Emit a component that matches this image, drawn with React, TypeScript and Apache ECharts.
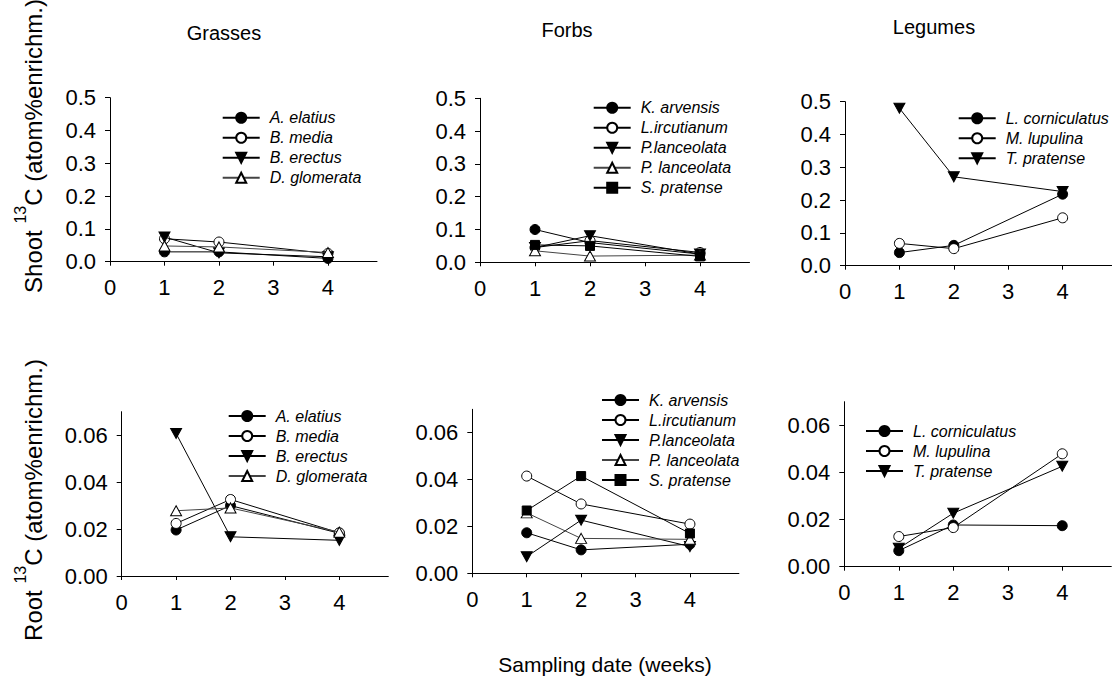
import React, { useEffect, useRef } from 'react';
import * as echarts from 'echarts';

// ---------- data ----------
const weeks = [1, 2, 4];
const xTickValues = [0, 1, 2, 3, 4];
const shootTickValues = [0, 0.1, 0.2, 0.3, 0.4, 0.5];
const rootTickValues = [0, 0.02, 0.04, 0.06];
const groupTitles = ['Grasses', 'Forbs', 'Legumes'];
const xAxisTitle = 'Sampling date (weeks)';
const shootAxisTitle = ['Shoot ', '13', 'C (atom%enrichm.)'];
const rootAxisTitle = ['Root ', '13', 'C (atom%enrichm.)'];

const grassNames = ['A. elatius', 'B. media', 'B. erectus', 'D. glomerata'];
const grassMarkers = ['filledCircle', 'openCircle', 'filledDown', 'openUp'];
const forbNames = ['K. arvensis', 'L.ircutianum', 'P.lanceolata', 'P. lanceolata', 'S. pratense'];
const forbMarkers = ['filledCircle', 'openCircle', 'filledDown', 'openUp', 'filledSquare'];
const legumeNames = ['L. corniculatus', 'M. lupulina', 'T. pratense'];
const legumeMarkers = ['filledCircle', 'openCircle', 'filledDown'];

// Shoot 13C
const aElatiusShoot = [0.030, 0.030, 0.010];
const bMediaShoot = [0.070, 0.060, 0.025];
const bErectusShoot = [0.075, 0.027, 0.015];
const dGlomerataShoot = [0.048, 0.045, 0.028];

const kArvensisShoot = [0.100, 0.060, 0.025];
const lIrcutianumShoot = [0.045, 0.066, 0.030];
const pLanceolataShoot = [0.045, 0.081, 0.025];
const pLanceolata2Shoot = [0.035, 0.019, 0.022];
const sPratenseShoot = [0.053, 0.050, 0.018];

const lCorniculatusShoot = [0.040, 0.062, 0.218];
const mLupulinaShoot = [0.068, 0.052, 0.146];
const tPratenseShoot = [0.480, 0.271, 0.226];

// Root 13C
const aElatiusRoot = [0.0196, 0.0300, 0.0182];
const bMediaRoot = [0.0224, 0.0326, 0.0184];
const bErectusRoot = [0.0607, 0.0167, 0.0152];
const dGlomerataRoot = [0.0278, 0.0290, 0.0187];

const kArvensisRoot = [0.0173, 0.0100, 0.0124];
const lIrcutianumRoot = [0.0415, 0.0296, 0.0210];
const pLanceolataRoot = [0.0071, 0.0227, 0.0114];
const pLanceolata2Root = [0.0258, 0.0149, 0.0145];
const sPratenseRoot = [0.0268, 0.0415, 0.0170];

const lCorniculatusRoot = [0.0068, 0.0177, 0.0174];
const mLupulinaRoot = [0.0128, 0.0166, 0.0479];
const tPratenseRoot = [0.0078, 0.0227, 0.0426];

// ---------- styling ----------
const FONT = '"Liberation Sans", Arial, sans-serif';
const DOWN_TRI = 'path://M0,0L20,0L10,17.3Z';

const markerStyles: Record<string, any> = {
  filledCircle: { symbol: 'circle', symbolSize: 10, fill: '#000', line: '#000' },
  openCircle: { symbol: 'circle', symbolSize: 10, fill: '#fff', line: '#000' },
  filledDown: { symbol: DOWN_TRI, symbolSize: [11, 10], fill: '#000', line: '#000' },
  openUp: { symbol: 'triangle', symbolSize: [11, 10], fill: '#fff', line: '#444' },
  filledSquare: { symbol: 'rect', symbolSize: 9, fill: '#000', line: '#000' },
};

const panels = [
  { grid: { left: 110, top: 97.7, width: 267, height: 164 }, isRoot: false, names: grassNames, markers: grassMarkers,
    values: [aElatiusShoot, bMediaShoot, bErectusShoot, dGlomerataShoot], legend: { left: 221.7, top: 109.7 } },
  { grid: { left: 480, top: 98.3, width: 269.5, height: 164 }, isRoot: false, names: forbNames, markers: forbMarkers,
    values: [kArvensisShoot, lIrcutianumShoot, pLanceolataShoot, pLanceolata2Shoot, sPratenseShoot], legend: { left: 592.7, top: 99.7 } },
  { grid: { left: 845, top: 101.7, width: 266.6, height: 164 }, isRoot: false, names: legumeNames, markers: legumeMarkers,
    values: [lCorniculatusShoot, mLupulinaShoot, tPratenseShoot], legend: { left: 957.7, top: 110.3 } },
  { grid: { left: 121.7, top: 411.7, width: 266.6, height: 164.3 }, isRoot: true, names: grassNames, markers: grassMarkers,
    values: [aElatiusRoot, bMediaRoot, bErectusRoot, dGlomerataRoot], legend: { left: 227.7, top: 408 } },
  { grid: { left: 472.3, top: 409.3, width: 266.6, height: 164 }, isRoot: true, names: forbNames, markers: forbMarkers,
    values: [kArvensisRoot, lIrcutianumRoot, pLanceolataRoot, pLanceolata2Root, sPratenseRoot], legend: { left: 601, top: 392 } },
  { grid: { left: 844.3, top: 401.7, width: 267, height: 165 }, isRoot: true, names: legumeNames, markers: legumeMarkers,
    values: [lCorniculatusRoot, mLupulinaRoot, tPratenseRoot], legend: { left: 865, top: 423 } },
];

function isNear(v: number, list: number[]) {
  return list.some((t) => Math.abs(t - v) < 1e-9);
}

function buildOption() {
  const grid: any[] = [];
  const xAxis: any[] = [];
  const yAxis: any[] = [];
  const series: any[] = [];
  const legend: any[] = [];

  panels.forEach((p, i) => {
    grid.push({ ...p.grid, containLabel: false });
    xAxis.push({
      type: 'value', gridIndex: i, min: 0, max: 4.9, interval: 1,
      axisLine: { show: true, onZero: false, lineStyle: { color: '#000', width: 1 } },
      axisTick: { show: true, length: 4, customValues: xTickValues, lineStyle: { color: '#000' } },
      axisLabel: {
        show: true, customValues: xTickValues, margin: 15, color: '#000', fontSize: 22, fontFamily: FONT,
        formatter: (v: number) => (isNear(v, xTickValues) ? String(v) : ''),
      },
      splitLine: { show: false },
    });
    const ticks = p.isRoot ? rootTickValues : shootTickValues;
    yAxis.push({
      type: 'value', gridIndex: i, min: 0, max: p.isRoot ? 0.07 : 0.5, interval: p.isRoot ? 0.02 : 0.1,
      axisLine: { show: true, onZero: false, lineStyle: { color: '#000', width: 1 } },
      axisTick: { show: true, length: 5, customValues: ticks, lineStyle: { color: '#000' } },
      axisLabel: {
        show: true, customValues: ticks, margin: 14, color: '#000', fontSize: 22, fontFamily: FONT,
        formatter: (v: number) => (isNear(v, ticks) ? v.toFixed(p.isRoot ? 2 : 1) : ''),
      },
      splitLine: { show: false },
    });
    p.names.forEach((name, k) => {
      const m = markerStyles[p.markers[k]];
      series.push({
        type: 'line', name, xAxisIndex: i, yAxisIndex: i,
        data: weeks.map((w, j) => [w, p.values[k][j]]),
        symbol: m.symbol, symbolSize: m.symbolSize, showSymbol: true,
        itemStyle: { color: m.fill, borderColor: '#000', borderWidth: 1, opacity: 1 },
        lineStyle: { color: m.line, width: 1 },
        emphasis: { disabled: true },
        z: 2 + k,
      });
    });
    legend.push({
      orient: 'vertical', left: p.legend.left, top: p.legend.top, padding: 0,
      data: p.names, itemWidth: 37, itemHeight: 12.5, itemGap: 4,
      selectedMode: false,
      textStyle: { fontSize: 16, fontStyle: 'italic', fontFamily: FONT, color: '#000', lineHeight: 16, padding: [0, 0, 0, 5] },
    });
  });

  const titleCenters = [[224, 33], [567, 30], [934, 27]];
  const graphic: any[] = groupTitles.map((t, i) => ({
    type: 'text', x: titleCenters[i][0], y: titleCenters[i][1],
    style: { text: t, fontSize: 20, fontFamily: FONT, fill: '#000', align: 'center', verticalAlign: 'middle' },
  }));

  const yTitle = (parts: string[], cy: number) => ({
    type: 'text', x: 29, y: cy, rotation: Math.PI / 2,
    style: {
      text: `{n|${parts[0]}}{s|${parts[1]}}{n|${parts[2]}}`,
      align: 'center', verticalAlign: 'middle', fill: '#000',
      rich: {
        n: { fontSize: 24, fontFamily: FONT, fill: '#000', lineHeight: 33, verticalAlign: 'bottom' },
        s: { fontSize: 16, fontFamily: FONT, fill: '#000', lineHeight: 17, verticalAlign: 'top' },
      },
    },
  });
  graphic.push(yTitle(shootAxisTitle, 146));
  graphic.push(yTitle(rootAxisTitle, 500));
  graphic.push({
    type: 'text', x: 605, y: 664,
    style: { text: xAxisTitle, fontSize: 21, fontFamily: FONT, fill: '#000', align: 'center', verticalAlign: 'middle' },
  });

  return {
    animation: false,
    backgroundColor: '#fff',
    grid, xAxis, yAxis, series, legend, graphic,
  };
}

export default function App() {
  const ref = useRef<HTMLDivElement>(null);
  useEffect(() => {
    if (!ref.current) return;
    const chart = echarts.init(ref.current, undefined, { renderer: 'svg' });
    chart.setOption(buildOption() as any);
    return () => chart.dispose();
  }, []);
  return (
    <div
      ref={ref}
      style={{ position: 'fixed', left: 0, top: 0, width: 1114, height: 686, background: '#fff' }}
    />
  );
}
